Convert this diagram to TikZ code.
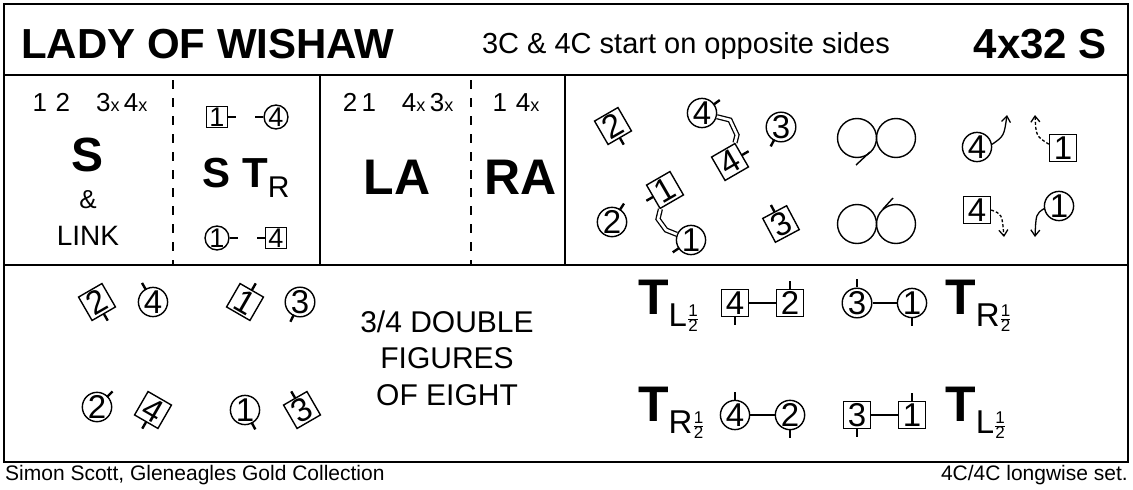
\documentclass[tikz,border=0pt]{standalone}
\usepackage{fontspec}
\setmainfont{Liberation Sans}
\usetikzlibrary{calc,arrows.meta}
\newcommand\fs[1]{\fontsize{#1}{#1}\selectfont}
\newcommand\sx{{\fs{18}x}}
\newcommand\hlf{\raisebox{-9pt}{\fs{17}$\frac{\mbox{1}}{\mbox{2}}$}}
\begin{document}
\begin{tikzpicture}[x=1pt,y=-1pt,
 frame/.style={line width=2pt},
 dsh/.style={line width=1.6pt,dash pattern=on 9pt off 9pt},
 cd/.style={circle,draw,line width=1.4pt,minimum size=28pt,inner sep=0pt,font=\fs{33}},
 bx/.style={rectangle,draw,line width=1.4pt,minimum size=27pt,inner sep=0pt,font=\fs{33}},
 scd/.style={cd,minimum size=22pt,font=\fs{27}},
 sbx/.style={bx,minimum size=21pt,font=\fs{27}},
 tk/.style={line width=2.4pt},
 dbl/.style={double,double distance=2.6pt,line width=1.3pt},
 ar/.style={line width=1.3pt,-{Straight Barb[length=6pt,width=9pt]}},
 txt/.style={inner sep=0pt,font=\fs{24}}]
\useasboundingbox (0,0) rectangle (1133,490);
\newcommand\cdan[4]{\node[cd] (#1) at (#2) {#3}; \draw[tk] ($(#1)+(#4:14)$) -- ($(#1)+(#4:22)$);}
\newcommand\bdan[5]{\node[bx,rotate=#5] (#1) at (#2) {#3}; \draw[tk] ($(#1)+(#4:13.5)$) -- ($(#1)+(#4:21.5)$);}
% frame
\draw[frame] (4,4) rectangle (1128,462);
\draw[frame] (4,75) -- (1128,75);
\draw[frame] (4,265) -- (1128,265);
\draw[frame] (320,75) -- (320,265);
\draw[frame] (565,75) -- (565,265);
\draw[dsh] (173,80) -- (173,265);
\draw[dsh] (471,80) -- (471,265);
% title
\node[anchor=west,inner sep=0pt,font=\fs{42}\bfseries] (title) at (21,44) {LADY OF WISHAW};
\node[inner sep=0pt,font=\fs{29}] (sub) at (686,46) {3C \& 4C start on opposite sides};
\node[anchor=east,inner sep=0pt,font=\fs{42}\bfseries] (bars) at (1107,44) {4x32 S};
% panel 1
\node[txt,font=\fs{26}] (p1a) at (90,103) {1\,\,2\quad3\sx\,4\sx};
\node[txt,font=\fs{48}\bfseries] (p1s) at (88,155) {S};
\node[txt,font=\fs{26}] (p1b) at (88,200) {\&};
\node[txt,font=\fs{28}] (p1c) at (88,236) {LINK};
% panel 2
\node[sbx] (s1) at (217,117) {1};
\draw[tk,line width=1.6pt] (s1.east) -- ++(8,0);
\node[scd] (s4) at (276,117) {4};
\draw[tk,line width=1.6pt] (s4.west) -- ++(-8,0);
\node[txt,font=\fs{42}\bfseries] (st) at (246,178) {S T\raisebox{-10pt}{\fs{30}\mdseries R}};
\node[scd] (t1) at (217,238) {1};
\draw[tk,line width=1.6pt] (t1.east) -- ++(8,0);
\node[sbx] (t4) at (276,238) {4};
\draw[tk,line width=1.6pt] (t4.west) -- ++(-8,0);
% panel 3,4
\node[txt,font=\fs{26}] (p3a) at (398,103) {2\,1\quad4\sx\,3\sx};
\node[txt,font=\fs{50}\bfseries] (la) at (397,177) {LA};
\node[txt,font=\fs{26}] (p4a) at (516,103) {1\,\,4\sx};
\node[txt,font=\fs{50}\bfseries] (ra) at (521,177) {RA};
% top-right
\bdan{a2}{613,126}{2}{60}{30}
\cdan{a4}{702,113}{4}{-36}
\bdan{b4}{730,162}{4}{-30}{30}
\cdan{a3}{781,127}{3}{118}
\bdan{b1}{665,190}{1}{150}{30}
\cdan{a2c}{612,222}{2}{-57}
\cdan{a1}{691,240}{1}{146}
\bdan{b3}{781,224}{3}{-118}{28}
\draw[dbl] (a4) -- (730,120) -- (737,135) -- (b4);
\draw[dbl] (b1) -- (658,219) -- (666,230) -- (a1);
\node[circle,draw,line width=1.4pt,minimum size=39pt,inner sep=0pt] (o1) at (857,138) {};
\node[circle,draw,line width=1.4pt,minimum size=39pt,inner sep=0pt] (o2) at (896,138) {};
\draw[line width=1.4pt] (870,152) -- (856,165);
\node[circle,draw,line width=1.4pt,minimum size=39pt,inner sep=0pt] (o3) at (857,224) {};
\node[circle,draw,line width=1.4pt,minimum size=39pt,inner sep=0pt] (o4) at (896,224) {};
\draw[line width=1.4pt] (883,209) -- (893,198);
\node[cd] (r4) at (977,147) {4};
\node[bx] (r1) at (1063,148) {1};
\node[bx] (q4) at (977,210) {4};
\node[cd] (q1) at (1059,206) {1};
\coordinate (e4) at (1007,115);
\coordinate (e1) at (1035,115);
\coordinate (f4) at (1004,237);
\coordinate (f1) at (1035,237);
\draw[ar] (r4.10) .. controls (1004,136) .. (e4);
\draw[ar,densely dashed] (r1.165) .. controls (1036,136) .. (e1);
\draw[ar,densely dashed] (q4.east) .. controls (1002,214) .. (f4);
\draw[ar] (q1.190) .. controls (1036,214) .. (f1);
% bottom-left
\bdan{c2}{97,302}{2}{60}{30}
\cdan{c4}{153,302}{4}{-120}
\bdan{c1}{245,302}{1}{-60}{-30}
\cdan{c3}{300,302}{3}{116}
\cdan{d2}{97,407}{2}{-45}
\bdan{d4}{153,410}{4}{120}{-30}
\cdan{d1}{245,410}{1}{62}
\bdan{d3}{302,410}{3}{-120}{30}
\node[txt,font=\fs{30}] (f1t) at (447,322) {3/4 DOUBLE};
\node[txt,font=\fs{30}] (f2t) at (447,358) {FIGURES};
\node[txt,font=\fs{30}] (f3t) at (447,395) {OF EIGHT};
% bottom-right
\newcommand\tsub[1]{{\fs{50}\bfseries T}\raisebox{-12pt}{\fs{33}#1}\hlf}
\node[anchor=west,inner sep=0pt] (tl1) at (638,306) {\tsub{L}};
\node[bx] (g4) at (735,303) {4}; \draw[tk] (g4.south) -- ++(0,8);
\node[bx] (g2) at (790,303) {2}; \draw[tk] (g2.north) -- ++(0,-8);
\draw[line width=1.4pt] (g4) -- (g2);
\node[cd] (g3) at (857,303) {3}; \draw[tk] (g3.north) -- ++(0,-8);
\node[cd] (g1) at (912,303) {1}; \draw[tk] (g1.south) -- ++(0,8);
\draw[line width=1.4pt] (g3) -- (g1);
\node[anchor=west,inner sep=0pt] (tr1) at (945,306) {\tsub{R}};
\node[anchor=west,inner sep=0pt] (tr2) at (638,413) {\tsub{R}};
\node[cd] (h4) at (735,415) {4}; \draw[tk] (h4.north) -- ++(0,-8);
\node[cd] (h2) at (790,415) {2}; \draw[tk] (h2.south) -- ++(0,8);
\draw[line width=1.4pt] (h4) -- (h2);
\node[bx] (h3) at (857,415) {3}; \draw[tk] (h3.south) -- ++(0,8);
\node[bx] (h1) at (912,415) {1}; \draw[tk] (h1.north) -- ++(0,-8);
\draw[line width=1.4pt] (h3) -- (h1);
\node[anchor=west,inner sep=0pt] (tl2) at (945,413) {\tsub{L}};
% footer
\node[anchor=west,inner sep=0pt,font=\fs{21}] (cr) at (5,475) {Simon Scott, Gleneagles Gold Collection};
\node[anchor=east,inner sep=0pt,font=\fs{21}] (set) at (1128,475) {4C/4C longwise set.};
\end{tikzpicture}
\end{document}
